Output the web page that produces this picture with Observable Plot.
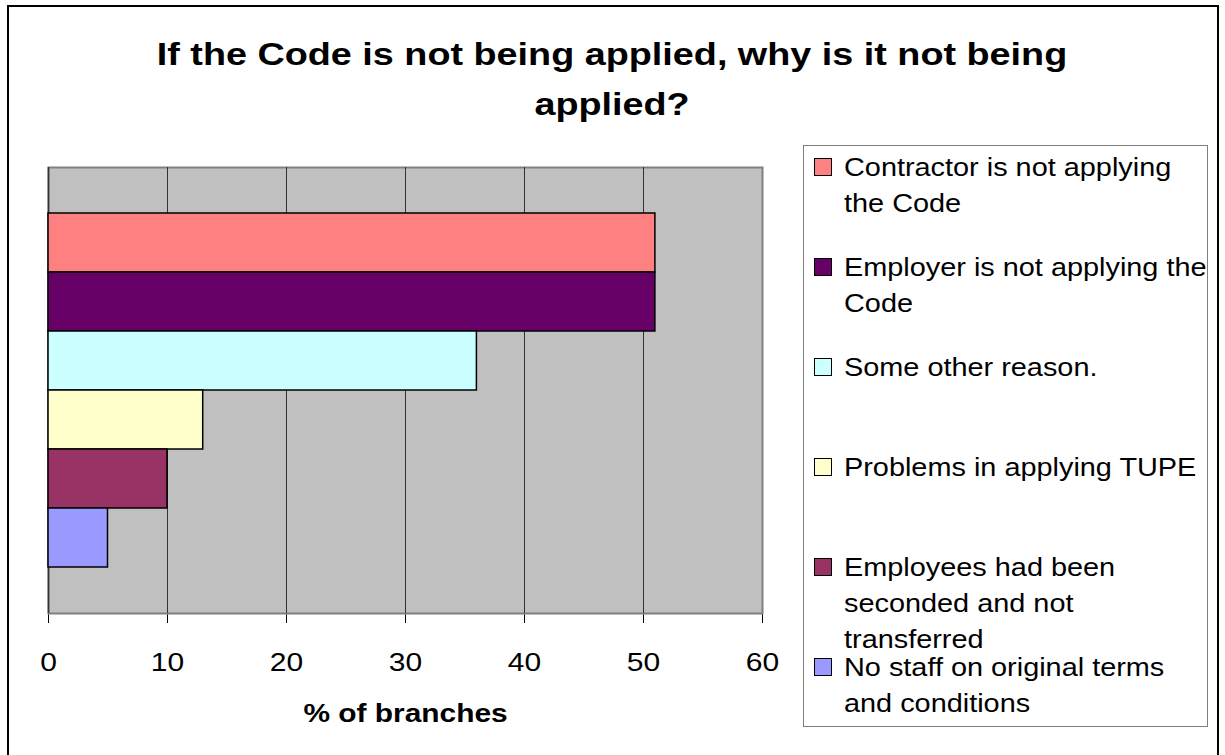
<!DOCTYPE html>
<html><head><meta charset="utf-8">
<script src="https://cdn.jsdelivr.net/npm/d3@7"></script>
<script src="https://cdn.jsdelivr.net/npm/@observablehq/plot@0.6"></script>
<style>
body{margin:0;background:#fff;font-family:Arial,"Liberation Sans",sans-serif;color:#000}
#wrap{position:relative;width:1225px;height:755px;overflow:hidden;background:#fff}
#chart{position:absolute;left:0;top:0}
#border{position:absolute;left:7px;top:5px;width:1212px;height:800px;border:2px solid #000;box-sizing:border-box;pointer-events:none}
#title{position:absolute;left:212px;width:800px;top:29px;text-align:center;font-weight:bold;font-size:32px;line-height:50px;transform:scaleX(1.18);transform-origin:center top}
#legend{position:absolute;left:803px;top:145px;width:405px;height:582px;border:1px solid #808080;box-sizing:border-box;background:#fff}
.item{position:absolute;left:40px;width:360px}
.txt{width:331px;font-size:26px;line-height:36px;transform:scaleX(1.11);transform-origin:left top}
.sw{position:absolute;left:-30px;top:9px;width:18px;height:18px;border:1px solid #000;box-sizing:border-box}
</style></head>
<body>
<div id="wrap">
  <div id="chart"></div>
  <div id="title"></div>
  <div id="legend"></div>
  <div id="border"></div>
</div>
<script>
const title = "If the Code is not being applied, why is it not being applied?";
const reasons = [
  "Contractor is not applying the Code",
  "Employer is not applying the Code",
  "Some other reason.",
  "Problems in applying TUPE",
  "Employees had been seconded and not transferred",
  "No staff on original terms and conditions"
];
const values = [51, 51, 36, 13, 10, 5];
const colors = ["#FF8080", "#660066", "#CCFFFF", "#FFFFCC", "#993366", "#9999FF"];
const xTicks = [0, 10, 20, 30, 40, 50, 60];
const gridTicks = [10, 20, 30, 40, 50];
const xLabel = "% of branches";

const data = reasons.map((r, i) => ({reason: r, value: values[i]}));

const plot = Plot.plot({
  width: 1225,
  height: 755,
  marginLeft: 48,
  marginRight: 463,
  marginTop: 167,
  marginBottom: 142,
  style: {background: "transparent", fontFamily: "Arial, 'Liberation Sans', sans-serif", fontSize: "25px", color: "#000"},
  x: {domain: [0, 60], ticks: xTicks, tickSize: 10, tickPadding: 30, label: null, line: true},
  y: {domain: reasons, paddingInner: 0, paddingOuter: 0.759, axis: null},
  color: {domain: reasons, range: colors},
  marks: [
    Plot.frame({fill: "#C0C0C0", stroke: "#808080", strokeWidth: 2}),
    Plot.ruleX(gridTicks, {stroke: "#333", strokeWidth: 1}),
    Plot.ruleX([0], {stroke: "#333", strokeWidth: 1.5}),
    Plot.barX(data, {x: "value", y: "reason", fill: "reason", stroke: "#000", strokeWidth: 1.5}),
    Plot.text([xLabel], {frameAnchor: "bottom", dy: 100, lineAnchor: "middle", fontWeight: "bold", fontSize: 26})
  ]
});

// widen text glyphs horizontally, as in the reference rendering
function stretch(el, s) {
  const t = el.getAttribute("transform") || "";
  el.setAttribute("transform", (t + ` scale(${s},1)`).trim());
}
plot.querySelectorAll('[aria-label^="x-axis"] text').forEach(t => stretch(t, 1.2));
plot.querySelectorAll('g[aria-label="text"] text').forEach(t => stretch(t, 1.15));

document.getElementById("chart").appendChild(plot);
document.getElementById("title").textContent = title;

const legend = document.getElementById("legend");
reasons.forEach((r, i) => {
  const it = document.createElement("div");
  it.className = "item";
  it.style.top = (3 + 100 * i) + "px";
  const sw = document.createElement("div");
  sw.className = "sw";
  sw.style.background = colors[i];
  it.appendChild(sw);
  const tx = document.createElement("div");
  tx.className = "txt";
  tx.textContent = r;
  it.appendChild(tx);
  legend.appendChild(it);
});
</script>
</body></html>
